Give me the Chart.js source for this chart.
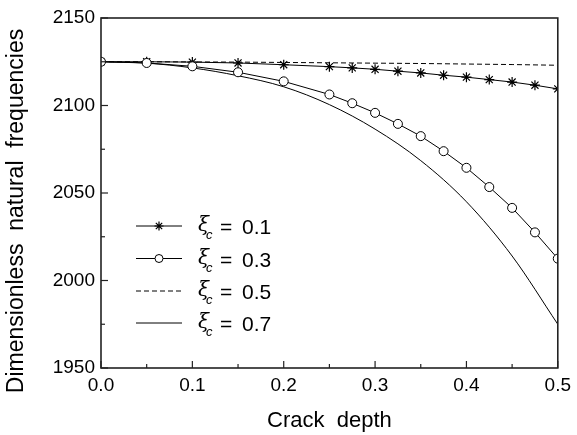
<!DOCTYPE html>
<html><head><meta charset="utf-8">
<script src="https://cdn.jsdelivr.net/npm/chart.js@4"></script>
<style>html,body{margin:0;padding:0;background:#fff}</style>
</head><body>
<canvas id="c" width="577" height="435"></canvas>
<script>
// ---- data ----
const crackDepth = [0, 0.05, 0.1, 0.15, 0.2, 0.25, 0.275, 0.3, 0.325, 0.35, 0.375, 0.4, 0.425, 0.45, 0.475, 0.5];
const freqXi01 = [2125, 2125, 2124.8, 2124.3, 2123.3, 2122.2, 2121.5, 2120.7, 2119.6, 2118.6, 2117.3, 2116.2, 2114.8, 2113.4, 2111.6, 2109.5];
const freqXi03 = [2125, 2124.3, 2122.4, 2119, 2113.8, 2106.3, 2101.3, 2095.8, 2089.5, 2082.5, 2073.9, 2064.4, 2053.4, 2041.5, 2027.5, 2012.5];
const crackDepthFine = [0, 0.05, 0.1, 0.15, 0.2, 0.25, 0.3, 0.35, 0.4, 0.45, 0.5];
const freqXi05 = [2125, 2125, 2124.9, 2124.8, 2124.6, 2124.4, 2124.2, 2124, 2123.7, 2123.4, 2123];
const freqXi07 = [2125, 2124.2, 2121.5, 2117, 2110.7, 2100.5, 2086.5, 2068.5, 2045, 2014, 1975];
const xTickLabels = ['0.0', '0.1', '0.2', '0.3', '0.4', '0.5'];
const yTickLabels = ['1950', '2000', '2050', '2100', '2150'];
const xiValues = ['0.1', '0.3', '0.5', '0.7'];
const yTitle = 'Dimensionless  natural  frequencies';
const xTitle = 'Crack  depth';

const FONT = '"Liberation Sans", Arial, sans-serif';
const pts = (xs, ys) => xs.map((x, i) => ({x: x, y: ys[i]}));

const boxAndTicks = {
  id: 'boxAndTicks',
  afterDatasetsDraw(chart) {
    const {ctx, chartArea: a, scales} = chart;
    ctx.save();
    ctx.strokeStyle = '#222';
    ctx.lineWidth = 1.6;
    ctx.setLineDash([]);
    ctx.strokeRect(a.left, a.top, a.right - a.left, a.bottom - a.top);
    ctx.lineWidth = 1.2;
    scales.x.ticks.forEach(t => {
      const px = scales.x.getPixelForValue(t.value);
      const major = Math.round(t.value * 20) % 2 === 0;
      ctx.beginPath(); ctx.moveTo(px, a.bottom); ctx.lineTo(px, a.bottom - (major ? 7 : 4)); ctx.stroke();
    });
    scales.y.ticks.forEach(t => {
      const py = scales.y.getPixelForValue(t.value);
      const major = Math.round(t.value) % 50 === 0;
      ctx.beginPath(); ctx.moveTo(a.left, py); ctx.lineTo(a.left + (major ? 7 : 4), py); ctx.stroke();
    });
    // y axis title (extends below the plot in the reference)
    ctx.translate(17, 211);
    ctx.rotate(-Math.PI / 2);
    ctx.fillStyle = '#000';
    ctx.font = '23px ' + FONT;
    ctx.textAlign = 'center';
    ctx.textBaseline = 'middle';
    ctx.fillText(yTitle, 0, 0);
    ctx.restore();
  }
};

const xiLegend = {
  id: 'xiLegend',
  afterDraw(chart) {
    const ctx = chart.ctx;
    const rows = [226, 258.5, 291, 323];
    const x0 = 136, x1 = 182, tx = 198;
    chart.data.datasets.forEach((ds, i) => {
      const y = rows[i];
      ctx.save();
      ctx.strokeStyle = ds.borderColor;
      ctx.lineWidth = ds.borderWidth;
      ctx.setLineDash(ds.borderDash || []);
      ctx.beginPath(); ctx.moveTo(x0, y); ctx.lineTo(x1, y); ctx.stroke();
      ctx.setLineDash([]);
      if (ds.pointRadius > 0) {
        ctx.fillStyle = ds.pointBackgroundColor;
        ctx.strokeStyle = ds.pointBorderColor;
        ctx.lineWidth = ds.pointBorderWidth;
        Chart.helpers.drawPoint(ctx, {pointStyle: ds.pointStyle, radius: ds.pointRadius - 0.5, rotation: 0, borderWidth: ds.pointBorderWidth}, (x0 + x1) / 2, y);
      }
      ctx.fillStyle = '#000';
      ctx.textBaseline = 'alphabetic';
      ctx.textAlign = 'left';
      ctx.font = 'italic 20px "DejaVu Serif", serif';
      ctx.fillText('\u03BE', tx, y + 5);
      ctx.font = 'italic 13px ' + FONT;
      ctx.fillText('c', tx + 8, y + 13);
      ctx.font = '21px ' + FONT;
      ctx.fillText('=', tx + 22, y + 8);
      ctx.fillText(xiValues[i], tx + 44, y + 8);
      ctx.restore();
    });
  }
};

new Chart(document.getElementById('c'), {
  type: 'line',
  data: {
    datasets: [
      {label: '\u03BEc = 0.1', data: pts(crackDepth, freqXi01), order: 1,
       borderColor: '#000', borderWidth: 1, pointStyle: 'star', pointRadius: 5,
       pointBorderColor: '#000', pointBackgroundColor: '#000', pointBorderWidth: 1.2, tension: 0},
      {label: '\u03BEc = 0.3', data: pts(crackDepth, freqXi03), order: 0,
       borderColor: '#000', borderWidth: 1, pointStyle: 'circle', pointRadius: 4.5,
       pointBorderColor: '#000', pointBackgroundColor: '#fff', pointBorderWidth: 1, tension: 0},
      {label: '\u03BEc = 0.5', data: pts(crackDepthFine, freqXi05), order: 2,
       borderColor: '#000', borderWidth: 1, borderDash: [5, 3], pointRadius: 0, tension: 0},
      {label: '\u03BEc = 0.7', data: pts(crackDepthFine, freqXi07), order: 3,
       borderColor: '#000', borderWidth: 1, pointRadius: 0, cubicInterpolationMode: 'monotone'}
    ]
  },
  options: {
    responsive: false,
    devicePixelRatio: 1,
    animation: false,
    layout: {padding: {top: 18, right: 17, left: 0, bottom: 0}},
    plugins: {legend: {display: false}, tooltip: {enabled: false}},
    scales: {
      x: {
        type: 'linear', min: 0, max: 0.5,
        grid: {display: false, drawTicks: false}, border: {display: false},
        ticks: {stepSize: 0.05, autoSkip: false, maxRotation: 0, padding: 6, color: '#000',
          font: {size: 19, family: FONT},
          callback: v => { const k = Math.round(v * 20); return k % 2 === 0 ? xTickLabels[k / 2] : ''; }},
        title: {display: true, text: xTitle, color: '#000', font: {size: 22, family: FONT}, padding: {top: 0, bottom: 1}},
        afterFit: s => { s.height = 67; }
      },
      y: {
        min: 1950, max: 2150,
        grid: {display: false, drawTicks: false}, border: {display: false},
        ticks: {stepSize: 25, autoSkip: false, padding: 6, color: '#000',
          font: {size: 19, family: FONT},
          callback: v => (Math.round(v) % 50 === 0 ? yTickLabels[Math.round((v - 1950) / 50)] : '')},
        afterFit: s => { s.width = 101; }
      }
    }
  },
  plugins: [boxAndTicks, xiLegend]
});
</script>
</body></html>
